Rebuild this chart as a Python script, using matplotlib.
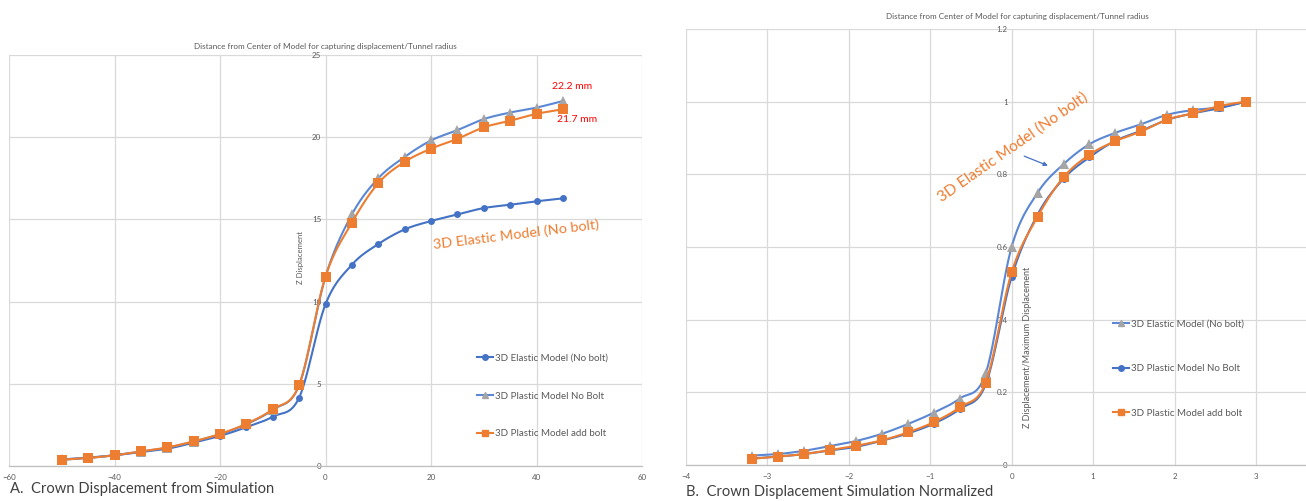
import numpy as np
import matplotlib
matplotlib.use("Agg")
import matplotlib.pyplot as plt
from matplotlib.lines import Line2D

plt.rcParams['font.family'] = ['Lato', 'DejaVu Sans']

# ---- Chart A: crown displacement (mm) vs distance from model centre ----
dist = [-50, -45, -40, -35, -30, -25, -20, -15, -10, -5, 0, 5, 10, 15, 20, 25, 30, 35, 40, 45]
elastic_no_bolt = [0.38, 0.49, 0.65, 0.85, 1.05, 1.42, 1.83, 2.36, 3.0, 4.16, 9.84, 12.24, 13.5,
                   14.39, 14.9, 15.3, 15.69, 15.89, 16.1, 16.28]
plastic_no_bolt = [0.40, 0.51, 0.66, 0.88, 1.11, 1.48, 1.93, 2.54, 3.42, 4.92, 11.52, 15.3, 17.5,
                   18.8, 19.8, 20.43, 21.1, 21.5, 21.8, 22.2]
plastic_add_bolt = [0.38, 0.49, 0.65, 0.89, 1.13, 1.5, 1.95, 2.57, 3.45, 4.93, 11.52, 14.8, 17.2,
                    18.5, 19.3, 19.9, 20.6, 21.0, 21.42, 21.7]

# ---- Chart B: normalised displacement vs distance / tunnel radius ----
dist_norm = [-3.18, -2.87, -2.55, -2.23, -1.91, -1.59, -1.27, -0.955, -0.637, -0.318, 0.0,
             0.318, 0.637, 0.955, 1.27, 1.59, 1.91, 2.23, 2.55, 2.87]
elastic_norm = [0.026, 0.030, 0.039, 0.052, 0.066, 0.086, 0.113, 0.144, 0.183, 0.252, 0.600,
                0.749, 0.828, 0.883, 0.914, 0.938, 0.964, 0.977, 0.984, 1.0]
plastic_no_bolt_norm = [0.018, 0.023, 0.030, 0.040, 0.050, 0.067, 0.087, 0.114, 0.154, 0.222, 0.518,
                        0.689, 0.788, 0.847, 0.892, 0.920, 0.950, 0.968, 0.982, 1.0]
plastic_add_bolt_norm = [0.017, 0.023, 0.030, 0.041, 0.053, 0.068, 0.090, 0.118, 0.159, 0.227, 0.530,
                         0.683, 0.792, 0.854, 0.891, 0.918, 0.951, 0.968, 0.988, 1.0]

labels_a = ["3D Elastic Model (No bolt)", "3D Plastic Model No Bolt", "3D Plastic Model add bolt"]
labels_b = ["3D Elastic Model (No bolt)", "3D Plastic Model No Bolt", "3D Plastic Model add bolt"]

BLUE = "#4472C4"
BLUE_LIGHT = "#5B87D4"
ORANGE = "#ED7D31"
GRAY = "#A5A5A5"
TXT = "#595959"
GRID = "#D9D9D9"

W, H = 1306, 501


def smooth(x, y, n=24):
    """Bezier smoothing through every point, like a spreadsheet 'smoothed line'."""
    x = np.asarray(x, float)
    y = np.asarray(y, float)
    P = np.column_stack([x, y])
    m = len(P)
    out = [P[0]]
    t = np.linspace(0, 1, n)[1:, None]
    for i in range(m - 1):
        p0 = P[i - 1] if i > 0 else P[i]
        p1 = P[i]
        p2 = P[i + 1]
        p3 = P[i + 2] if i + 2 < m else P[i + 1]
        c1 = p1 + (p2 - p0) / 6.0
        c2 = p2 - (p3 - p1) / 6.0
        seg = ((1 - t) ** 3) * p1 + 3 * ((1 - t) ** 2) * t * c1 + 3 * (1 - t) * t ** 2 * c2 + t ** 3 * p2
        out.extend(seg)
    out = np.array(out)
    return out[:, 0], out[:, 1]


def series(ax, x, y, line_color, marker, mcolor, ms, z):
    sx, sy = smooth(x, y)
    ax.plot(sx, sy, color=line_color, lw=1.5, zorder=z, solid_capstyle='round')
    ax.plot(x, y, linestyle='none', marker=marker, color=mcolor, markersize=ms,
            markeredgewidth=0, zorder=z + 0.5)


def style_axes(ax, xlim, ylim, xticks, yticks, ylabels):
    ax.set_xlim(*xlim)
    ax.set_ylim(*ylim)
    ax.set_xticks(xticks)
    ax.set_yticks(yticks)
    ax.set_yticklabels(ylabels)
    ax.grid(True, color=GRID, lw=0.9, zorder=0)
    for s in ('top', 'right', 'left'):
        ax.spines[s].set_visible(False)
    ax.spines['left'].set_position(('data', 0))
    ax.spines['bottom'].set_color("#BFBFBF")
    ax.spines['bottom'].set_linewidth(0.9)
    ax.tick_params(length=0, labelsize=5.7, colors=TXT, pad=6)
    ax.tick_params(axis='y', pad=3)
    ax.set_facecolor('white')


fig = plt.figure(figsize=(W / 100, H / 100), dpi=100)

# Chart A
axA = fig.add_axes([9 / W, 1 - 466 / H, 633 / W, 411 / H])
style_axes(axA, (-60, 60), (0, 25), range(-60, 61, 20), range(0, 26, 5),
           [str(v) for v in range(0, 26, 5)])
series(axA, dist, elastic_no_bolt, BLUE, 'o', BLUE, 5, 3)
series(axA, dist, plastic_no_bolt, BLUE_LIGHT, '^', GRAY, 7, 4)
series(axA, dist, plastic_add_bolt, ORANGE, 's', ORANGE, 6.5, 5)

axA.text(46.8, 23.07, "22.2 mm", color="#FF0000", fontsize=7.5, ha='center', va='center')
axA.text(47.6, 21.06, "21.7 mm", color="#FF0000", fontsize=7.5, ha='center', va='center')
axA.text(36.2, 14.1, "3D Elastic Model (No bolt)", color=ORANGE, fontsize=10.4,
         rotation=7, ha='center', va='center', rotation_mode='anchor')

fig.text(325 / W, 1 - 46 / H, "Distance from Center of Model for capturing displacement/Tunnel radius",
         ha='center', va='center', fontsize=5.9, color=TXT)
fig.text(301 / W, 1 - 257 / H, "Z Displacement", rotation=90, ha='center', va='center',
         fontsize=5.6, color=TXT)
fig.text(10 / W, 1 - 489 / H, "A.  Crown Displacement from Simulation", ha='left', va='center',
         fontsize=10.6, color="#404040")

hA = [Line2D([], [], color=BLUE, lw=1.5, marker='o', markersize=4, mfc=BLUE, mec=BLUE),
      Line2D([], [], color=BLUE_LIGHT, lw=1.5, marker='^', markersize=5, mfc=GRAY, mec=GRAY),
      Line2D([], [], color=ORANGE, lw=1.5, marker='s', markersize=5, mfc=ORANGE, mec=ORANGE)]
legA = axA.legend(hA, labels_a, loc='upper left', bbox_to_anchor=(473 / W, 1 - 350 / H),
                  bbox_transform=fig.transFigure, frameon=False, fontsize=7,
                  handlelength=1.7, handletextpad=0.2, labelspacing=2.95, borderaxespad=0)
for t in legA.get_texts():
    t.set_color(TXT)

# Chart B
axB = fig.add_axes([685.6 / W, 1 - 465 / H, 652 / W, 436 / H])
style_axes(axB, (-4, 4), (0, 1.2), range(-4, 4), [0, 0.2, 0.4, 0.6, 0.8, 1.0, 1.2],
           ["0", "0.2", "0.4", "0.6", "0.8", "1", "1.2"])
series(axB, dist_norm, elastic_norm, BLUE_LIGHT, '^', GRAY, 7, 3)
series(axB, dist_norm, plastic_no_bolt_norm, BLUE, 'o', BLUE, 5, 4)
series(axB, dist_norm, plastic_add_bolt_norm, ORANGE, 's', ORANGE, 6.5, 5)

axB.text(0.017, 0.875, "3D Elastic Model (No bolt)", color=ORANGE, fontsize=11.2,
         rotation=35, ha='center', va='center', rotation_mode='anchor')
axB.annotate("", xy=(0.477, 0.821), xytext=(0.123, 0.853),
             arrowprops=dict(arrowstyle='-|>', color=BLUE, lw=0.9, mutation_scale=6))

fig.text(1017 / W, 1 - 17 / H, "Distance from Center of Model for capturing displacement/Tunnel radius",
         ha='center', va='center', fontsize=5.9, color=TXT)
fig.text(1027 / W, 1 - 347 / H, "Z Displacement/Maximum Displacement", rotation=90, ha='center',
         va='center', fontsize=6.5, color=TXT)
fig.text(686 / W, 1 - 492 / H, "B.  Crown Displacement Simulation Normalized", ha='left', va='center',
         fontsize=10.6, color="#404040")

hB = [Line2D([], [], color=BLUE_LIGHT, lw=1.5, marker='^', markersize=5, mfc=GRAY, mec=GRAY),
      Line2D([], [], color=BLUE, lw=1.5, marker='o', markersize=4, mfc=BLUE, mec=BLUE),
      Line2D([], [], color=ORANGE, lw=1.5, marker='s', markersize=5, mfc=ORANGE, mec=ORANGE)]
legB = axB.legend(hB, labels_b, loc='upper left', bbox_to_anchor=(1109 / W, 1 - 316 / H),
                  bbox_transform=fig.transFigure, frameon=False, fontsize=7,
                  handlelength=1.7, handletextpad=0.2, labelspacing=3.65, borderaxespad=0)
for t in legB.get_texts():
    t.set_color(TXT)

fig.savefig("out.png", dpi=100, facecolor='white')
